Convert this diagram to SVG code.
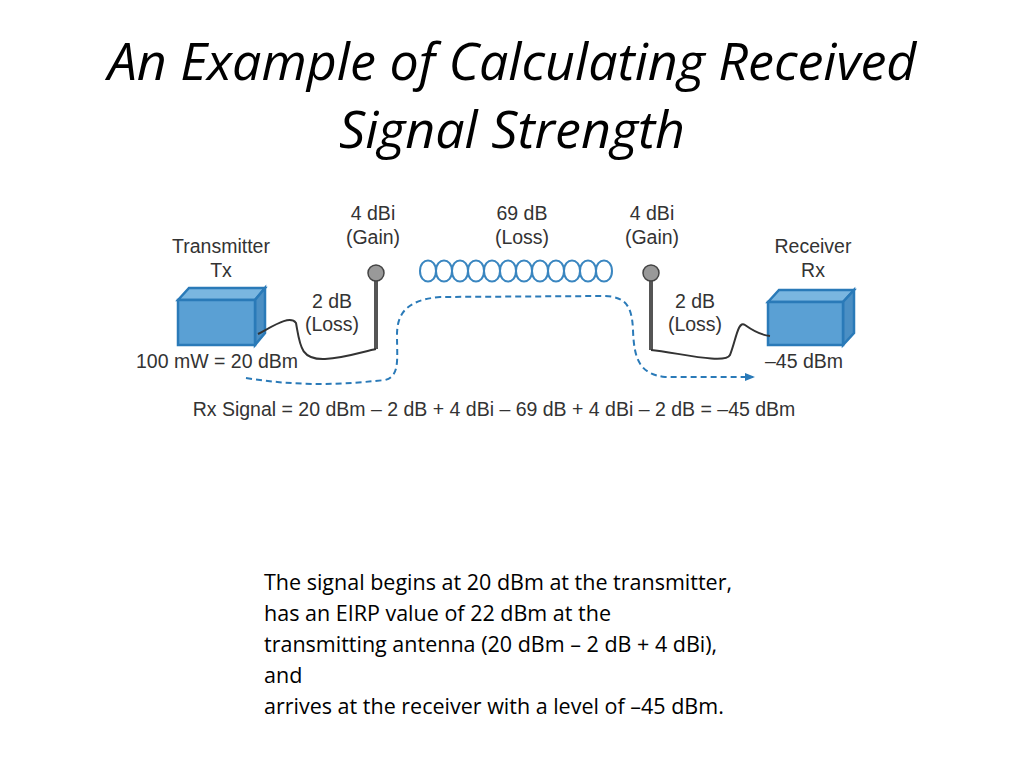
<svg xmlns="http://www.w3.org/2000/svg" width="1024" height="768" viewBox="0 0 1024 768">
<defs>
<style>
.t{font-family:"Liberation Sans",Arial,sans-serif;font-size:19.5px;fill:#333;text-anchor:middle}
.b{font-family:"Open Sans","Liberation Sans",sans-serif;font-size:21.5px;fill:#000}
.h{font-family:"Open Sans","Liberation Sans",sans-serif;font-size:52px;font-style:italic;fill:#000;text-anchor:middle}
.front{fill:#5aa0d4;stroke:#2a7ab8;stroke-width:2.5}
.top{fill:#7ab6e0;stroke:#2a7ab8;stroke-width:2.5}
.side{fill:#4b8fc4;stroke:#2a7ab8;stroke-width:2.5}
.cable{fill:none;stroke:#333;stroke-width:2}
.wave{fill:none;stroke:#3a86c0;stroke-width:2}
</style>
<marker id="arr" markerWidth="10" markerHeight="8" refX="8" refY="4" orient="auto" markerUnits="userSpaceOnUse"><path d="M0,0 L10,4 L0,8 Z" fill="#2a7ab8"/></marker>
</defs>
<rect width="1024" height="768" fill="#fff"/>
<text class="h" x="512" y="80">An Example of Calculating Received</text>
<text class="h" x="512" y="148">Signal Strength</text>

<g id="tx">
<path class="top" d="M178,300 L189,288 L265,288 L255,300 Z"/>
<path class="side" d="M255,300 L265,288 L265,333 L255,345 Z"/>
<rect class="front" x="178" y="300" width="77" height="45"/>
<text class="t" x="221" y="253">Transmitter</text>
<text class="t" x="221" y="277">Tx</text>
<text class="t" x="217" y="368">100 mW = 20 dBm</text>
</g>
<g id="rx">
<path class="top" d="M768,302 L779,290 L854,290 L843,302 Z"/>
<path class="side" d="M843,302 L854,290 L854,333 L843,345 Z"/>
<rect class="front" x="768" y="302" width="75" height="43"/>
<text class="t" x="813" y="253">Receiver</text>
<text class="t" x="813" y="277">Rx</text>
<text class="t" x="804" y="368">–45 dBm</text>
</g>
<g id="antTx">
<line x1="376" y1="280" x2="376" y2="349" stroke="#555" stroke-width="4"/>
<circle cx="376" cy="273" r="8" fill="#999" stroke="#444" stroke-width="1.5"/>
<text class="t" x="373" y="220">4 dBi</text>
<text class="t" x="373" y="244">(Gain)</text>
<text class="t" x="332" y="308">2 dB</text>
<text class="t" x="332" y="331">(Loss)</text>
</g>
<g id="antRx">
<line x1="651" y1="280" x2="651" y2="350" stroke="#555" stroke-width="4"/>
<circle cx="651" cy="273" r="8" fill="#999" stroke="#444" stroke-width="1.5"/>
<text class="t" x="652" y="220">4 dBi</text>
<text class="t" x="652" y="244">(Gain)</text>
<text class="t" x="695" y="308">2 dB</text>
<text class="t" x="695" y="331">(Loss)</text>
</g>
<g id="space">
<path class="wave" d="M420,271 C420,257 436,257 436,271 C436,285 452,285 452,271 C452,257 468,257 468,271 C468,285 484,285 484,271 C484,257 500,257 500,271 C500,285 516,285 516,271 C516,257 532,257 532,271 C532,285 548,285 548,271 C548,257 564,257 564,271 C564,285 580,285 580,271 C580,257 596,257 596,271 C596,285 612,285 612,271"/>
<path class="wave" d="M420,271 C420,285 436,285 436,271 C436,257 452,257 452,271 C452,285 468,285 468,271 C468,257 484,257 484,271 C484,285 500,285 500,271 C500,257 516,257 516,271 C516,285 532,285 532,271 C532,257 548,257 548,271 C548,285 564,285 564,271 C564,257 580,257 580,271 C580,285 596,285 596,271 C596,257 612,257 612,271"/>
<text class="t" x="522" y="220">69 dB</text>
<text class="t" x="522" y="244">(Loss)</text>
</g>
<g id="connectors">
<path class="cable" d="M258,334 C275,325 290,315 296,323 C300,345 300,360 325,359 C345,358 365,351 376,349"/>
<path class="cable" d="M651,350 C675,352 725,365 730,355 C736,340 738,320 745,325 C752,330 760,335 770,336"/>
<path d="M246,378 C290,385 330,386 385,380 C400,376 397,360 397,335 C397,315 405,300 440,297 L605,296 C625,297 632,305 633,330 C634,360 640,374 665,377 L753,377" fill="none" stroke="#2a7ab8" stroke-width="2" stroke-dasharray="6,4" marker-end="url(#arr)"/>
</g>
<text class="t" x="494" y="416">Rx Signal = 20 dBm – 2 dB + 4 dBi – 69 dB + 4 dBi – 2 dB = –45 dBm</text>
<g id="caption">
<text class="b" x="264" y="590">The signal begins at 20 dBm at the transmitter,</text>
<text class="b" x="264" y="621">has an EIRP value of 22 dBm at the</text>
<text class="b" x="264" y="652">transmitting antenna (20 dBm – 2 dB + 4 dBi),</text>
<text class="b" x="264" y="683">and</text>
<text class="b" x="264" y="714">arrives at the receiver with a level of –45 dBm.</text>
</g>
</svg>
